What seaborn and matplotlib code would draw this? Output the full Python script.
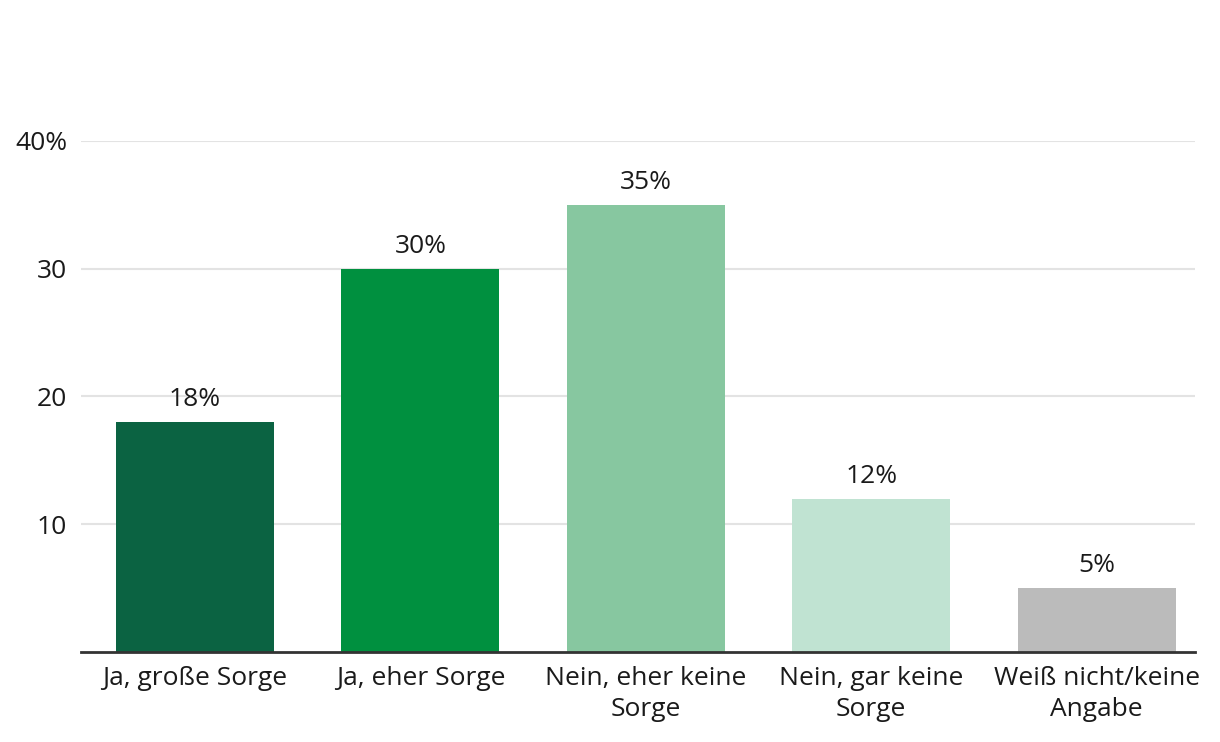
import seaborn as sns
import matplotlib.pyplot as plt
import pandas as pd

# --- data ---
categories = ['Ja, große Sorge', 'Ja, eher Sorge', 'Nein, eher keine\nSorge',
              'Nein, gar keine\nSorge', 'Weiß nicht/keine\nAngabe']
values = [18, 30, 35, 12, 5]
bar_colors = ['#0B6342', '#00903F', '#87C7A0', '#C0E3D2', '#BBBBBB']
y_ticks = [10, 20, 30, 40]
y_tick_labels = ['10', '20', '30', '40%']

sns.set_theme(style='white')
plt.rcParams.update({
    'font.family': ['Open Sans', 'DejaVu Sans'],
    'figure.facecolor': 'white',
    'axes.facecolor': 'white',
})

df = pd.DataFrame({'cat': categories, 'val': values})

fig = plt.figure(figsize=(12.2, 7.42), dpi=100)
ax = fig.add_axes([0.0664, 0.1213, 0.913, 0.6887])

sns.barplot(data=df, x='cat', y='val', hue='cat', palette=bar_colors,
            width=0.70, legend=False, ax=ax, saturation=1, linewidth=0)

ax.set_ylim(0, 40)
ax.set_xlim(-0.505, 4.435)
ax.set_yticks(y_ticks)
ax.set_yticklabels(y_tick_labels)
ax.set_xlabel('')
ax.set_ylabel('')

ax.grid(axis='y', color='#e3e3e3', linewidth=1.5)
ax.set_axisbelow(True)
for s in ['top', 'right', 'left']:
    ax.spines[s].set_visible(False)
ax.spines['bottom'].set_color('#333333')
ax.spines['bottom'].set_linewidth(2)

fs = 19
ax.tick_params(axis='y', length=0, pad=10, labelsize=fs, labelcolor='#1a1a1a')
ax.tick_params(axis='x', length=0, pad=10, labelsize=fs, labelcolor='#1a1a1a')
for lbl in ax.get_xticklabels():
    lbl.set_linespacing(1.3)

for i, v in enumerate(values):
    ax.annotate(f'{v}%', (i, v), xytext=(0, 7), textcoords='offset points',
                ha='center', va='bottom', fontsize=fs, color='#1a1a1a',
                annotation_clip=False)

fig.savefig('out.png', dpi=100)
